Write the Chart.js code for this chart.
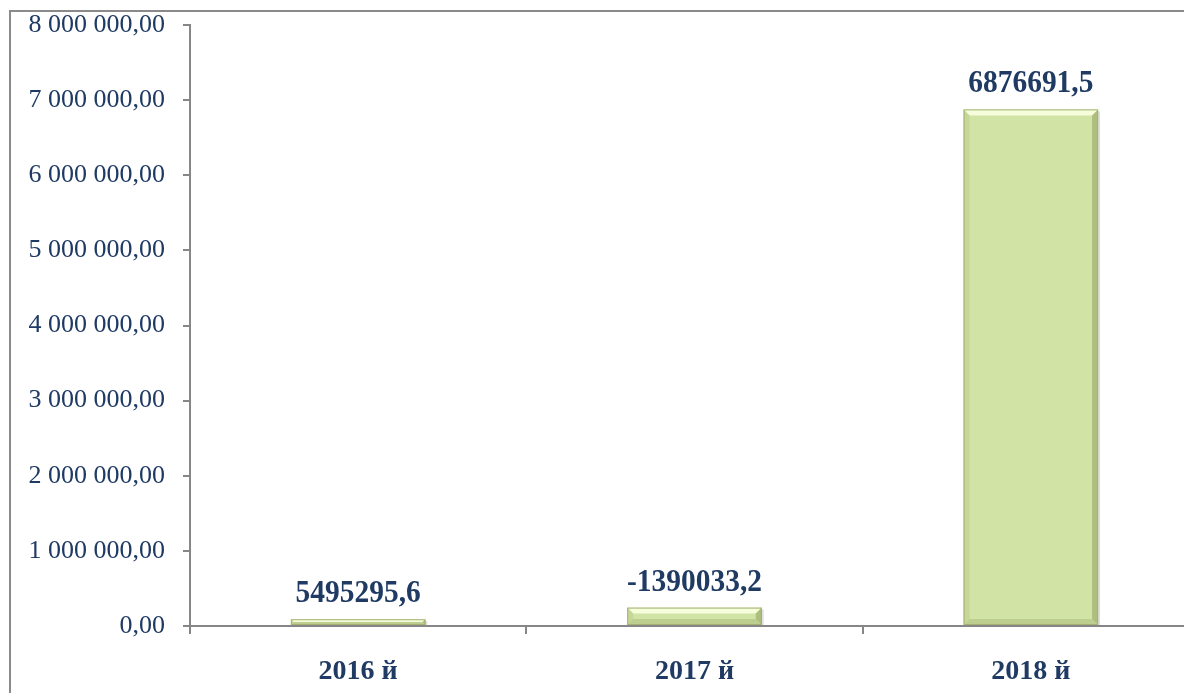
<!DOCTYPE html>
<html>
<head>
<meta charset="utf-8">
<script src="https://cdn.jsdelivr.net/npm/chart.js@4.4.1/dist/chart.umd.min.js"></script>
<style>
  html, body { margin: 0; padding: 0; background: #fff; overflow: hidden; }
  #frame {
    position: absolute; left: 9px; top: 10px;
    width: 1240px; height: 760px;
    border: 2px solid #8a8a8a; box-sizing: border-box;
  }
  #wrap { position: absolute; left: 0; top: 0; width: 1220px; height: 693px; }
</style>
</head>
<body>
<div id="frame"></div>
<div id="wrap"><canvas id="chart"></canvas></div>
<script>
  // ── Data ─────────────────────────────────────────────────────────────────
  const years      = ['2016 й', '2017 й', '2018 й'];
  const barValues  = [90000, 245000, 6876691.5];
  const barLabels  = ['5495295,6', '-1390033,2', '6876691,5'];
  const yTickLabels = ['0,00', '1 000 000,00', '2 000 000,00', '3 000 000,00',
                       '4 000 000,00', '5 000 000,00', '6 000 000,00',
                       '7 000 000,00', '8 000 000,00'];

  const NAVY = '#1f3a63';
  const AXIS = '#868686';
  const SERIF = "'Liberation Serif', 'Times New Roman', serif";

  // ── Plugins ──────────────────────────────────────────────────────────────
  // soft bevel on each bar, like the Office "bevel" shape effect
  const bevelPlugin = {
    id: 'bevel',
    afterDatasetsDraw(chart) {
      const ctx = chart.ctx;
      chart.getDatasetMeta(0).data.forEach(bar => {
        const l = bar.x - bar.width / 2, r = bar.x + bar.width / 2;
        const t = bar.y, b = bar.base;
        const h = b - t;
        const d = Math.min(6, h / 2);
        ctx.save();
        // top light edge
        ctx.fillStyle = 'rgba(250,255,225,0.9)';
        ctx.beginPath();
        ctx.moveTo(l, t); ctx.lineTo(r, t); ctx.lineTo(r - d, t + d); ctx.lineTo(l + d, t + d);
        ctx.closePath(); ctx.fill();
        // left edge
        ctx.fillStyle = 'rgba(190,205,140,0.55)';
        ctx.beginPath();
        ctx.moveTo(l, t); ctx.lineTo(l + d, t + d); ctx.lineTo(l + d, b - d); ctx.lineTo(l, b);
        ctx.closePath(); ctx.fill();
        // right edge
        ctx.fillStyle = 'rgba(150,165,100,0.6)';
        ctx.beginPath();
        ctx.moveTo(r, t); ctx.lineTo(r - d, t + d); ctx.lineTo(r - d, b - d); ctx.lineTo(r, b);
        ctx.closePath(); ctx.fill();
        // bottom edge
        ctx.fillStyle = 'rgba(170,185,120,0.5)';
        ctx.beginPath();
        ctx.moveTo(l, b); ctx.lineTo(l + d, b - d); ctx.lineTo(r - d, b - d); ctx.lineTo(r, b);
        ctx.closePath(); ctx.fill();
        // outline
        ctx.strokeStyle = '#a3b174';
        ctx.lineWidth = 1;
        ctx.strokeRect(l + 0.5, t + 0.5, r - l - 1, h - 1);
        // shadow on the right side
        ctx.fillStyle = 'rgba(0,0,0,0.12)';
        ctx.fillRect(r, t + 2, 2, h - 2);
        ctx.restore();
      });
    }
  };

  // value labels above the bars (text as shown in the source, not bar height)
  const valueLabelPlugin = {
    id: 'valueLabels',
    afterDatasetsDraw(chart) {
      const ctx = chart.ctx;
      ctx.save();
      ctx.font = 'bold 31px ' + SERIF;
      ctx.fillStyle = NAVY;
      ctx.textAlign = 'center';
      ctx.textBaseline = 'middle';
      chart.getDatasetMeta(0).data.forEach((bar, i) => {
        // slightly condensed, as in the source picture
        ctx.save();
        ctx.translate(bar.x, bar.y - 25);
        ctx.scale(0.95, 1);
        ctx.fillText(barLabels[i], 0, 0);
        ctx.restore();
      });
      ctx.restore();
    }
  };

  // ── Chart ────────────────────────────────────────────────────────────────
  new Chart(document.getElementById('chart'), {
    type: 'bar',
    data: {
      labels: years,
      datasets: [{
        data: barValues,
        backgroundColor: '#d2e3a6',
        borderWidth: 0,
        categoryPercentage: 1,
        barPercentage: 0.4,
      }],
    },
    options: {
      responsive: true,
      maintainAspectRatio: false,
      animation: false,
      layout: { padding: { left: 0, right: 21, top: 25, bottom: 0 } },
      plugins: {
        legend: { display: false },
        tooltip: { enabled: false },
      },
      scales: {
        x: {
          grid: {
            offset: true,
            drawOnChartArea: false,
            drawTicks: true,
            tickLength: 8,
            color: AXIS,
            lineWidth: 2,
          },
          border: { color: AXIS, width: 2 },
          ticks: {
            color: NAVY,
            padding: 21,
            font: { family: SERIF, size: 28, weight: 'bold' },
          },
          afterFit: s => { s.height = 67; s.paddingLeft = 0; s.paddingRight = 0; },
        },
        y: {
          min: 0,
          max: 8000000,
          grid: {
            drawOnChartArea: false,
            drawTicks: true,
            tickLength: 7,
            color: AXIS,
            lineWidth: 2,
          },
          border: { color: AXIS, width: 2 },
          ticks: {
            stepSize: 1000000,
            color: NAVY,
            padding: 18,
            font: { family: SERIF, size: 26 },
            callback: (v, i) => yTickLabels[i],
          },
          afterFit: s => { s.width = 190; s.paddingTop = 0; s.paddingBottom = 0; },
        },
      },
    },
    plugins: [bevelPlugin, valueLabelPlugin],
  });
</script>
</body>
</html>
